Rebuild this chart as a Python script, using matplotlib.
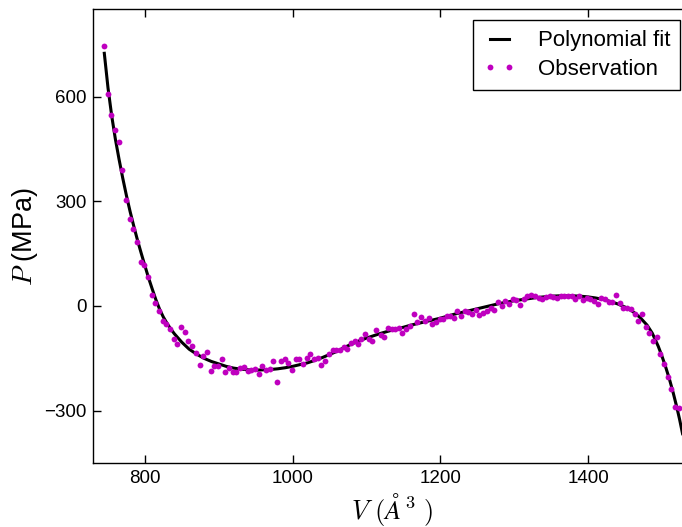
import numpy as np
import matplotlib
matplotlib.use("Agg")
import matplotlib.pyplot as plt

obs_v = [744.5, 749.5, 754.4, 759.4, 764.4, 769.3, 774.3, 779.3, 784.2, 789.2,
         794.2, 799, 804, 809, 814, 819, 824, 829, 834, 839,
         844, 849, 854, 859, 864, 869, 874, 879, 884, 889,
         894, 899, 904, 909, 914, 919, 924, 929, 934, 939,
         944, 949, 954, 959, 964, 969, 974, 979, 984, 989,
         994, 999, 1004, 1009, 1014, 1019, 1024, 1029, 1034, 1039,
         1044, 1049, 1054, 1059, 1064, 1069, 1074, 1079, 1084, 1089,
         1093, 1098, 1103, 1108, 1113, 1119, 1124, 1129, 1134, 1139,
         1144, 1148, 1154, 1159, 1164, 1169, 1174, 1179, 1184, 1189,
         1194, 1199, 1204, 1209, 1213, 1218, 1223, 1228, 1233, 1238,
         1243, 1248, 1253, 1258, 1263, 1268, 1273, 1278, 1283, 1288,
         1293, 1298, 1303, 1308, 1313, 1318, 1323, 1328, 1333, 1338,
         1343, 1348, 1353, 1358, 1363, 1368, 1373, 1378, 1383, 1388,
         1393, 1398, 1403, 1408, 1413, 1418, 1423, 1428, 1433, 1438,
         1443, 1448, 1453, 1458, 1463, 1468, 1473, 1478, 1483, 1488,
         1493, 1498, 1503, 1508, 1513, 1518, 1523]
obs_p = [746, 607, 546, 504, 469, 389, 304, 250, 221, 183,
         125, 117, 82, 32, 9, -14, -44, -52, -65, -96,
         -109, -60, -74, -99, -115, -136, -168, -142, -133, -185,
         -171, -172, -151, -189, -178, -190, -188, -178, -176, -186,
         -183, -181, -194, -171, -184, -182, -157, -217, -157, -153,
         -162, -183, -152, -152, -166, -149, -138, -152, -148, -169,
         -157, -138, -126, -127, -126, -117, -124, -107, -99, -110,
         -94, -79, -95, -101, -68, -84, -88, -63, -67, -65,
         -64, -78, -67, -56, -24, -47, -31, -43, -35, -52,
         -47, -38, -37, -29, -29, -35, -13, -29, -15, -18,
         -24, -12, -25, -19, -15, -5, -11, 11, 1, 15,
         7, 20, 17, 4, 19, 30, 31, 29, 23, 21,
         25, 30, 27, 23, 29, 30, 30, 30, 21, 29,
         17, 22, 20, 14, 6, 22, 20, 12, 11, 31,
         9, -6, -6, -8, -22, -43, -24, -61, -78, -100,
         -90, -137, -165, -203, -237, -289, -291]

# Fitted curve
fit_v = [745, 750, 755, 760, 765, 770, 775, 780, 785, 790,
         795, 800, 805, 810, 815, 820, 825, 830, 835, 840,
         850, 860, 870, 880, 890, 900, 910, 920, 930, 940,
         950, 960, 970, 980, 990, 1000, 1010, 1020, 1030, 1040,
         1050, 1060, 1070, 1080, 1090, 1100, 1110, 1120, 1130, 1140,
         1150, 1160, 1170, 1180, 1190, 1200, 1210, 1220, 1230, 1240,
         1250, 1260, 1270, 1280, 1290, 1300, 1310, 1320, 1330, 1340,
         1350, 1360, 1370, 1380, 1390, 1400, 1410, 1420, 1430, 1440,
         1450, 1460, 1470, 1480, 1487, 1495, 1500, 1505, 1510, 1515,
         1520, 1524, 1528]
fit_p = [724, 625, 545, 478, 420, 366, 316, 270, 228, 188,
         151, 115, 80, 48, 17, -10, -32, -50, -66, -80,
         -104, -124, -138, -150, -159, -166, -173, -178, -181, -183,
         -184, -183, -182, -180, -177, -173, -168, -163, -156, -148,
         -139, -130, -119, -109, -100, -92, -85, -78, -72, -66,
         -61, -55, -50, -45, -40, -35, -29, -23, -18, -13,
         -8, -3, 2, 7, 11, 15, 18, 21, 24, 26,
         28, 29, 29, 29, 28, 26, 23, 19, 13, 6,
         -3, -15, -32, -55, -78, -115, -143, -174, -208, -246,
         -288, -325, -366]

xticks = [800, 1000, 1200, 1400]
yticks = [-300, 0, 300, 600]

plt.rcParams['font.family'] = ['Liberation Sans', 'DejaVu Sans']
plt.rcParams['mathtext.fontset'] = 'cm'

fig = plt.figure(figsize=(6.82, 5.27), dpi=100)
ax = fig.add_axes([0.1367, 0.1214, 0.8771, 0.8609])

ax.plot(fit_v, fit_p, color='black', lw=2.2, label='Polynomial fit')
ax.plot(obs_v, obs_p, 'o', color=(0.75, 0, 0.75), ms=4.2, mew=0,
        label='Observation')

ax.set_xlim(730, 1540)
ax.set_ylim(-450, 850)
ax.set_xticks(xticks)
ax.set_yticks(yticks)
ax.set_yticklabels(['\u2212300', '0', '300', '600'])
ax.tick_params(direction='in', top=True, right=True, length=5.5, width=1,
               labelsize=13.5, pad=5)
for s in ax.spines.values():
    s.set_linewidth(1)

ax.set_xlabel(r'$V\ (\AA^3\ )$', fontsize=19, labelpad=3)
ax.set_ylabel(r'$P$ (MPa)', fontsize=19.5, labelpad=3)

leg = ax.legend(loc='upper right', fontsize=16, numpoints=2,
                fancybox=False, handlelength=1.45, handletextpad=1.0,
                borderpad=0.45, labelspacing=0.35, borderaxespad=0.5,
                framealpha=1)
leg.get_frame().set_edgecolor('black')
leg.get_frame().set_linewidth(1)

fig.savefig('out.png', dpi=100)
